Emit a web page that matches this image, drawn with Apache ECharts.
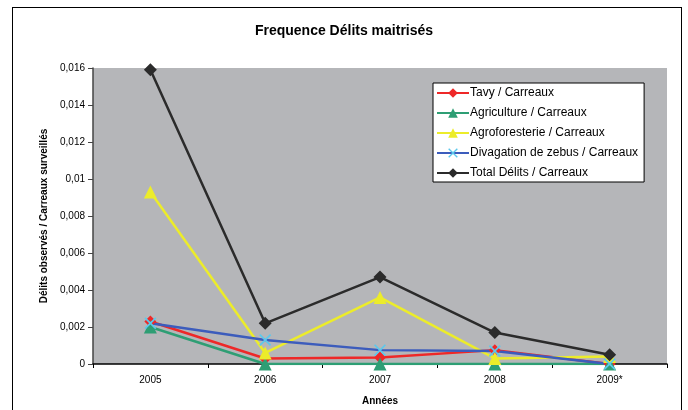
<!DOCTYPE html>
<html>
<head>
<meta charset="utf-8">
<script src="https://cdn.jsdelivr.net/npm/echarts@6/dist/echarts.min.js"></script>
<style>
  html, body { margin: 0; padding: 0; background: #fff; }
  #frame { position: absolute; left: 12px; top: 7px; width: 670px; height: 410px; border: 1px solid #000; box-sizing: border-box; }
  #chart { position: absolute; left: 0; top: 0; width: 688px; height: 410px; }
</style>
</head>
<body>
<div id="frame"></div>
<div id="chart"></div>
<script>
const years = ['2005', '2006', '2007', '2008', '2009*'];
const tavy = [0.0023, 0.0003, 0.00035, 0.00075, 0];
const agriculture = [0.002, 0, 0, 0, 0];
const agroforesterie = [0.0093, 0.0006, 0.0036, 0.0003, 0.0004];
const divagation = [0.0022, 0.0013, 0.00075, 0.0007, 0];
const total = [0.0159, 0.0022, 0.0047, 0.0017, 0.0005];

const crossSymbol = 'path://M0,1L1,0L5,4L9,0L10,1L6,5L10,9L9,10L5,6L1,10L0,9L4,5Z';

function line(name, data, color, symbol, size, markColor) {
  return {
    name: name,
    type: 'line',
    data: data,
    symbol: symbol,
    symbolSize: size,
    showAllSymbol: true,
    lineStyle: { color: color, width: 2.5 },
    itemStyle: { color: markColor || color },
    emphasis: { disabled: true }
  };
}

const chart = echarts.init(document.getElementById('chart'), null, { renderer: 'canvas' });
chart.setOption({
  animation: false,
  textStyle: { fontFamily: 'Liberation Sans, Arial, sans-serif', color: '#000' },
  title: {
    text: 'Frequence Délits maitrisés',
    left: 'center',
    top: 19,
    textStyle: { fontSize: 14, fontWeight: 'bold', color: '#000', fontFamily: 'Liberation Sans, Arial, sans-serif' }
  },
  grid: {
    left: 93, right: 21, top: 68, bottom: 46,
    outerBoundsMode: 'none',
    containLabel: false,
    show: true, backgroundColor: '#b5b6b9', borderWidth: 0
  },
  legend: {
    orient: 'vertical',
    left: 433, top: 83,
    backgroundColor: '#fff',
    borderColor: '#000',
    borderWidth: 1,
    padding: [4, 6, 3, 3],
    itemGap: 8,
    itemWidth: 32,
    itemHeight: 12,
    textStyle: { fontSize: 12, color: '#000', padding: [0, 0, 0, -4] },
    data: [
      { name: 'Tavy / Carreaux' },
      { name: 'Agriculture / Carreaux' },
      { name: 'Agroforesterie / Carreaux' },
      { name: 'Divagation de zebus / Carreaux' },
      { name: 'Total Délits / Carreaux' }
    ]
  },
  xAxis: {
    type: 'category',
    data: years,
    boundaryGap: true,
    name: 'Années',
    nameLocation: 'middle',
    nameGap: 32,
    nameTextStyle: { fontSize: 10, fontWeight: 'bold', color: '#000' },
    axisLine: { lineStyle: { color: '#000', width: 1.5 } },
    axisTick: { show: true, length: 4, lineStyle: { color: '#000' } },
    axisLabel: { fontSize: 10, color: '#000', margin: 11 },
    splitLine: { show: false }
  },
  yAxis: {
    type: 'value',
    min: 0, max: 0.016, interval: 0.002,
    name: 'Délits observés / Carreaux surveillés',
    nameLocation: 'middle',
    nameRotate: 90,
    nameGap: 37,
    nameTextStyle: { fontSize: 10, fontWeight: 'bold', color: '#000' },
    axisLine: { show: true, lineStyle: { color: '#444', width: 1.5 } },
    axisTick: { show: true, length: 5, lineStyle: { color: '#444' } },
    axisLabel: {
      fontSize: 10, color: '#000', margin: 8,
      formatter: v => String(+v.toFixed(3)).replace('.', ',')
    },
    splitLine: { show: false }
  },
  series: [
    line('Tavy / Carreaux', tavy, '#ee2828', 'diamond', 12),
    line('Agriculture / Carreaux', agriculture, '#2e9e74', 'triangle', 13),
    line('Agroforesterie / Carreaux', agroforesterie, '#ecec2a', 'triangle', 13),
    line('Divagation de zebus / Carreaux', divagation, '#3c5cbc', crossSymbol, 12, '#5cc8ec'),
    line('Total Délits / Carreaux', total, '#2b2b2b', 'diamond', 13)
  ]
});
</script>
</body>
</html>
